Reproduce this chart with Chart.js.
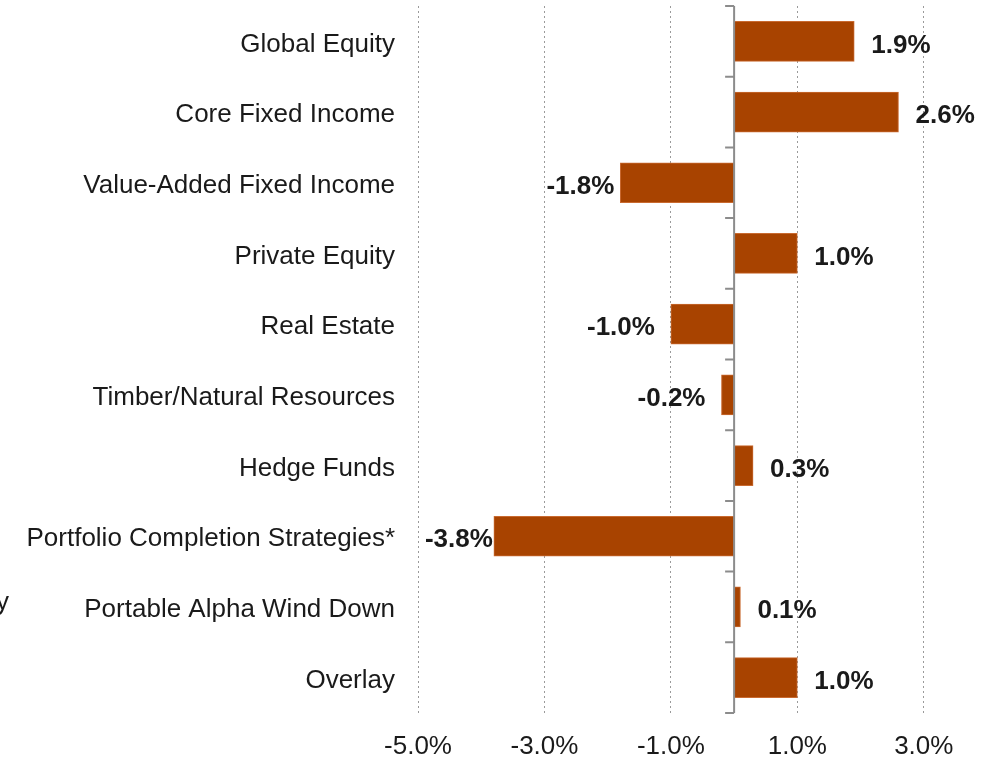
<!DOCTYPE html>
<html>
<head>
<meta charset="utf-8">
<script src="https://cdn.jsdelivr.net/npm/chart.js@4.4.1/dist/chart.umd.min.js"></script>
<style>
  html, body { margin: 0; padding: 0; background: #fff; overflow: hidden; }
  #wrap { position: relative; width: 1000px; height: 759px; }
  #stray { position: absolute; left: -150px; top: 586px; width: 159px; text-align: right;
           font: 26px "Liberation Sans", Arial, sans-serif; color: #1a1a1a; white-space: nowrap; }
</style>
</head>
<body>
<div id="wrap">
  <canvas id="attrChart" width="1000" height="759"></canvas>
  <div id="stray">Strategy</div>
</div>
<script>
const categories = [
  "Global Equity", "Core Fixed Income", "Value-Added Fixed Income", "Private Equity",
  "Real Estate", "Timber/Natural Resources", "Hedge Funds",
  "Portfolio Completion Strategies*", "Portable Alpha Wind Down", "Overlay"
];
const values = [1.9, 2.6, -1.8, 1.0, -1.0, -0.2, 0.3, -3.8, 0.1, 1.0];
const xTickValues = [-5, -3, -1, 1, 3];

const FONT = '"Liberation Sans", Arial, sans-serif';
const barColor = '#A84300';
// gap between bar end and its value label (px)
const labelGap = [17, 17, 6, 17, 16, 16, 17, 1, 17, 17];

const zeroAxisPlugin = {
  id: 'zeroAxis',
  afterDatasetsDraw(chart) {
    const { ctx, chartArea, scales } = chart;
    const x0 = scales.x.getPixelForValue(0);
    const n = categories.length;
    const step = (chartArea.bottom - chartArea.top) / n;
    ctx.save();
    ctx.strokeStyle = '#8c8c8c';
    ctx.lineWidth = 2;
    ctx.beginPath();
    ctx.moveTo(x0, chartArea.top);
    ctx.lineTo(x0, chartArea.bottom);
    for (let i = 0; i <= n; i++) {
      const y = chartArea.top + i * step;
      ctx.moveTo(x0 - 9, y);
      ctx.lineTo(x0, y);
    }
    ctx.stroke();
    ctx.restore();
  }
};

const valueLabelPlugin = {
  id: 'valueLabels',
  afterDatasetsDraw(chart) {
    const { ctx } = chart;
    const meta = chart.getDatasetMeta(0);
    ctx.save();
    ctx.font = 'bold 26px ' + FONT;
    ctx.fillStyle = '#1a1a1a';
    ctx.textBaseline = 'middle';
    meta.data.forEach((bar, i) => {
      const v = values[i];
      const txt = v.toFixed(1) + '%';
      if (v >= 0) {
        ctx.textAlign = 'left';
        ctx.fillText(txt, bar.x + labelGap[i], bar.y + 4);
      } else {
        ctx.textAlign = 'right';
        ctx.fillText(txt, bar.x - labelGap[i], bar.y + 4);
      }
    });
    ctx.restore();
  }
};

const ctx = document.getElementById('attrChart').getContext('2d');
new Chart(ctx, {
  type: 'bar',
  data: {
    labels: categories,
    datasets: [{
      data: values,
      backgroundColor: barColor,
      borderColor: '#C96A30',
      borderWidth: 1,
      borderSkipped: false,
      barThickness: 40
    }]
  },
  options: {
    indexAxis: 'y',
    responsive: false,
    animation: false,
    layout: { padding: { top: 6, right: 13, left: 0, bottom: 0 } },
    plugins: {
      legend: { display: false },
      tooltip: { enabled: false }
    },
    scales: {
      x: {
        min: -5,
        max: 4,
        afterBuildTicks: s => { s.ticks = xTickValues.map(v => ({ value: v })); },
        afterFit: s => { s.height = 46; s.paddingLeft = 0; s.paddingRight = 0; },
        grid: { color: '#9a9a9a', lineWidth: 1, drawTicks: false },
        border: { display: false, dash: [2, 3] },
        ticks: {
          padding: 18,
          color: '#1a1a1a',
          font: { family: FONT, size: 26 },
          callback: v => v.toFixed(1) + '%'
        }
      },
      y: {
        afterFit: s => { s.width = 418; s.paddingTop = 0; s.paddingBottom = 0; },
        grid: { display: false, drawTicks: false },
        border: { display: false },
        ticks: {
          padding: 23,
          labelOffset: 3,
          color: '#1a1a1a',
          font: { family: FONT, size: 26 }
        }
      }
    }
  },
  plugins: [zeroAxisPlugin, valueLabelPlugin]
});
</script>
</body>
</html>
